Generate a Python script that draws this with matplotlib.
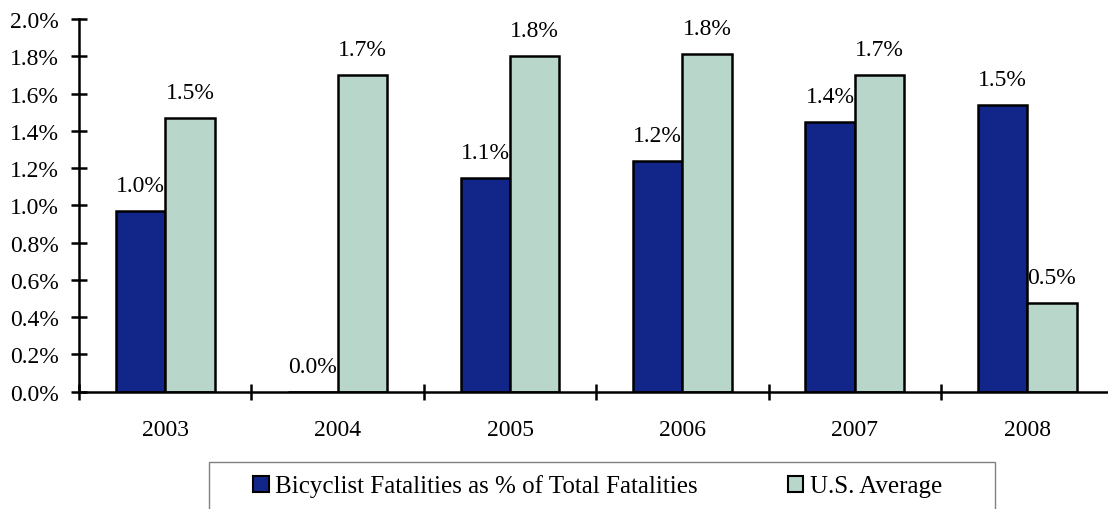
import numpy as np
import matplotlib
matplotlib.use('Agg')
import matplotlib.pyplot as plt
from matplotlib.patches import Rectangle, Patch

# Data (percent)
years = ['2003', '2004', '2005', '2006', '2007', '2008']
bicyclist_pct = [0.97, 0.0, 1.148, 1.236, 1.449, 1.54]
us_average_pct = [1.47, 1.70, 1.80, 1.81, 1.70, 0.476]
series_names = ['Bicyclist Fatalities as % of Total Fatalities', 'U.S. Average']
y_ticks = [0.0, 0.2, 0.4, 0.6, 0.8, 1.0, 1.2, 1.4, 1.6, 1.8, 2.0]

blue = '#12268A'
green = '#B9D6CA'
font_size = 17

plt.rcParams['font.family'] = ['Liberation Serif', 'DejaVu Serif']
plt.rcParams['font.size'] = font_size

W, H = 1108, 510
fig = plt.figure(figsize=(W / 100, H / 100), dpi=100)
ax = fig.add_axes([79 / W, 1 - 392.7 / H, (1113.4 - 79) / W, (392.7 - 20) / H])

x = np.arange(len(years))
bw = 0.287
b1 = ax.bar(x - bw / 2, bicyclist_pct, bw, color=blue, edgecolor='black', linewidth=1.8)
b2 = ax.bar(x + bw / 2, us_average_pct, bw, color=green, edgecolor='black', linewidth=1.8)

# Value labels above each bar
for bars, vals in ((b1, bicyclist_pct), (b2, us_average_pct)):
    for rect, v in zip(bars, vals):
        ax.annotate(f'{v:.1f}%', (rect.get_x() + rect.get_width() / 2, v),
                    xytext=(0, 14.5), textcoords='offset points',
                    ha='center', va='baseline', fontsize=font_size)

ax.set_xlim(-0.5, len(years) - 0.5)
ax.set_ylim(0, 2.0)
ax.set_yticks(y_ticks)
ax.set_yticklabels([f'{t:.1f}%' for t in y_ticks])

# Category labels centered, tick marks on the boundaries
ax.set_xticks(x)
ax.set_xticklabels(years)
ax.set_xticks(np.arange(-0.5, len(years)), minor=True)
ax.tick_params(axis='x', which='major', length=0, pad=20)
ax.tick_params(axis='x', which='minor', direction='inout', length=11.5, width=1.8)
ax.tick_params(axis='y', direction='inout', length=11.5, width=1.8, pad=9)

for side in ('top', 'right'):
    ax.spines[side].set_visible(False)
for side in ('left', 'bottom'):
    ax.spines[side].set_linewidth(1.8)

# Legend with its own frame running off the bottom edge
fig.patches.append(Rectangle((209 / W, -0.05), (995 - 209) / W, 0.05 + 1 - 463 / H,
                             transform=fig.transFigure, fill=False,
                             edgecolor='#808080', linewidth=1.0))
handles = [Patch(facecolor=blue, edgecolor='black', linewidth=1.5),
           Patch(facecolor=green, edgecolor='black', linewidth=1.5)]
fig.legend(handles, series_names, loc='center left', bbox_to_anchor=(253 / W, 1 - 487 / H),
           ncol=2, frameon=False, handlelength=0.62, handleheight=0.62,
           handletextpad=0.27, columnspacing=3.6, borderpad=0, borderaxespad=0,
           fontsize=18)

fig.savefig('out.png', dpi=100)
